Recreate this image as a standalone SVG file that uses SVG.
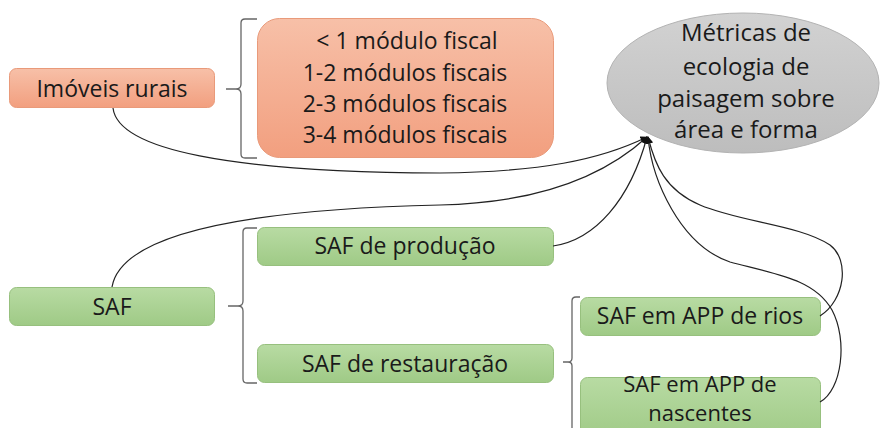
<svg xmlns="http://www.w3.org/2000/svg" width="880" height="428" viewBox="0 0 880 428">
<defs>
<linearGradient id="gOr" x1="0" y1="0" x2="0" y2="1"><stop offset="0" stop-color="#f7c0a8"/><stop offset="1" stop-color="#f29f7f"/></linearGradient>
<linearGradient id="gGr" x1="0" y1="0" x2="0" y2="1"><stop offset="0" stop-color="#b8dba3"/><stop offset="1" stop-color="#9fca86"/></linearGradient>
<linearGradient id="gGy" x1="0" y1="0" x2="0" y2="1"><stop offset="0" stop-color="#d2d2d2"/><stop offset="1" stop-color="#bdbdbd"/></linearGradient>
<marker id="arr" viewBox="0 0 10 10" refX="9" refY="5" markerWidth="6" markerHeight="6" orient="auto"><path d="M0,0 L10,5 L0,10 z" fill="#111"/></marker>
</defs>
<style>
.or{fill:url(#gOr);stroke:#e99a7a;stroke-width:1}
.gr{fill:url(#gGr);stroke:#97c07e;stroke-width:1}
.gy{fill:url(#gGy);stroke:#b3b3b3;stroke-width:1}
.t{font-family:"Open Sans","Liberation Sans",sans-serif;font-size:23px;fill:#1a1a1a;text-anchor:middle}
.ts{font-size:22px}
.te{font-family:"Open Sans","Liberation Sans",sans-serif;font-size:24px;fill:#1a1a1a;text-anchor:middle}
.br{fill:none;stroke:#666;stroke-width:1.3}
.c{fill:none;stroke:#222;stroke-width:1.2}
</style>
<g id="brackets">
<path class="br" d="M257,19 H245 Q241,19 241,23 V84 Q241,89 236,89 H226 M236,89 Q241,89 241,94 V154 Q241,158 245,158 H257"/>
<path class="br" d="M257,228 H247 Q243,228 243,232 V301 Q243,306 238,306 H228 M238,306 Q243,306 243,311 V379 Q243,383 247,383 H257"/>
<path class="br" d="M580,297 H576 Q572,297 572,301 V358 Q572,362 568,362 H563 M568,362 Q572,362 572,366 V430"/>
</g>
<g id="node-imoveis">
<rect class="or" x="9.5" y="68.5" width="205" height="39" rx="7"/>
<text class="t" x="112" y="97">Imóveis rurais</text>
</g>
<g id="node-modulos">
<rect class="or" x="257.5" y="18.5" width="296" height="139" rx="22"/>
<text class="t" x="407" y="49">&lt; 1 módulo fiscal</text>
<text class="t" x="405" y="81">1-2 módulos fiscais</text>
<text class="t" x="405" y="112">2-3 módulos fiscais</text>
<text class="t" x="405" y="143">3-4 módulos fiscais</text>
</g>
<g id="node-metricas">
<ellipse class="gy" cx="743" cy="83" rx="136" ry="70"/>
<text class="te" x="746" y="41">Métricas de</text>
<text class="te" x="746" y="75">ecologia de</text>
<text class="te" x="746" y="107">paisagem sobre</text>
<text class="te" x="746" y="138">área e forma</text>
</g>
<g id="node-saf">
<rect class="gr" x="9.5" y="287.5" width="205" height="38" rx="7"/>
<text class="t" x="112" y="315">SAF</text>
</g>
<g id="node-producao">
<rect class="gr" x="257.5" y="227.5" width="296" height="38" rx="7"/>
<text class="t" x="405" y="254">SAF de produção</text>
</g>
<g id="node-restauracao">
<rect class="gr" x="257.5" y="344.5" width="296" height="38" rx="7"/>
<text class="t" x="405" y="372">SAF de restauração</text>
</g>
<g id="node-rios">
<rect class="gr" x="580.5" y="297.5" width="240" height="38" rx="7"/>
<text class="t" x="700" y="324">SAF em APP de rios</text>
</g>
<g id="node-nascentes">
<rect class="gr" x="580.5" y="377.5" width="240" height="62" rx="7"/>
<text class="t ts" x="700" y="392">SAF em APP de</text>
<text class="t ts" x="700" y="421">nascentes</text>
</g>
<g id="connectors">
<path class="c" d="M113,108 C118,150 230,172 440,173 C540,172 600,160 647,137" marker-end="url(#arr)"/>
<path class="c" d="M112,287 C120,240 220,210 440,205 C530,203 600,180 647,137" marker-end="url(#arr)"/>
<path class="c" d="M553,246 C595,240 630,200 647,137" marker-end="url(#arr)"/>
<path class="c" d="M820,316 C845,300 850,260 830,245 C800,225 740,222 700,205 C665,190 655,165 648,137" marker-end="url(#arr)"/>
<path class="c" d="M820,402 C842,390 848,340 832,310 C815,280 780,275 730,262 C680,245 652,180 648,137" marker-end="url(#arr)"/>
</g>
</svg>
